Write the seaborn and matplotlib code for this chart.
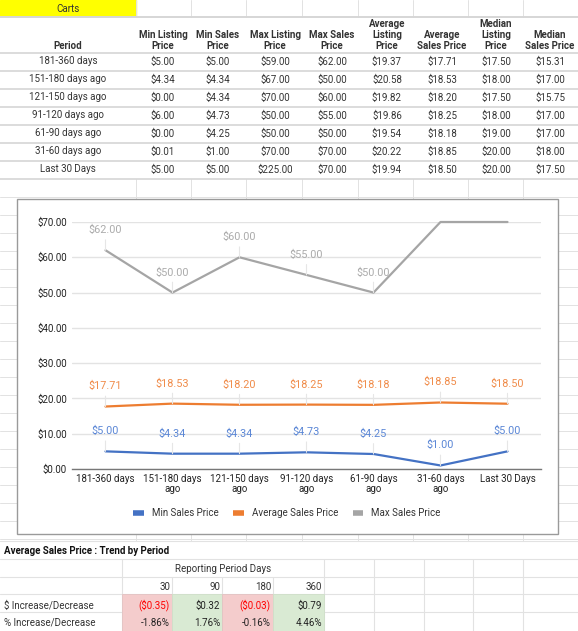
import matplotlib.pyplot as plt
from matplotlib.patches import Rectangle
from matplotlib.ticker import StrMethodFormatter
import seaborn as sns
import pandas as pd

# ---- data ----
periods = ['181-360 days', '151-180 days ago', '121-150 days ago', '91-120 days ago',
           '61-90 days ago', '31-60 days ago', 'Last 30 Days']
tick_labels = ['181-360 days', '151-180 days\nago', '121-150 days\nago', '91-120 days\nago',
               '61-90 days\nago', '31-60 days\nago', 'Last 30 Days']
headers = ['Min Listing\nPrice', 'Min Sales\nPrice', 'Max Listing\nPrice', 'Max Sales\nPrice',
           'Average\nListing\nPrice', 'Average\nSales Price', 'Median\nListing\nPrice',
           'Median\nSales Price']

min_listing = [5.00, 4.34, 0.00, 6.00, 0.00, 0.01, 5.00]
min_sales = [5.00, 4.34, 4.34, 4.73, 4.25, 1.00, 5.00]
max_listing = [59.00, 67.00, 70.00, 50.00, 50.00, 70.00, 225.00]
max_sales = [62.00, 50.00, 60.00, 55.00, 50.00, 70.00, 70.00]
avg_listing = [19.37, 20.58, 19.82, 19.86, 19.54, 20.22, 19.94]
avg_sales = [17.71, 18.53, 18.20, 18.25, 18.18, 18.85, 18.50]
median_listing = [17.50, 18.00, 17.50, 18.00, 19.00, 20.00, 20.00]
median_sales = [15.31, 17.00, 15.75, 17.00, 17.00, 18.00, 17.50]

series_names = ['Min Sales Price', 'Average Sales Price', 'Max Sales Price']
series_colors = ['#4472c4', '#ed7d31', '#a5a5a5']
label_colors = ['#5b87d6', '#f08c4a', '#ababab']

trend_days = [30, 90, 180, 360]
trend_dollar = [-0.35, 0.32, -0.03, 0.79]
trend_pct = [-1.86, 1.76, -0.16, 4.46]

W, H = 578, 631

sns.set_style('white')
plt.rcParams['font.family'] = ['Roboto', 'DejaVu Sans']

fig = plt.figure(figsize=(W / 100, H / 100), dpi=100)
bg = fig.add_axes([0, 0, 1, 1], zorder=0)
bg.set_xlim(0, W)
bg.set_ylim(H, 0)
bg.axis('off')

grid_c = '#e2e2e2'
txt_c = '#333333'
fs = 7

# spreadsheet grid
col_edges = [136, 191, 246, 302, 358, 413, 468, 523]
for x in col_edges:
    bg.plot([x, x], [0, 17], color=grid_c, lw=0.7)
    bg.plot([x, x], [179, 541], color=grid_c, lw=0.7)
for y in range(197, 541, 18):
    bg.plot([0, W], [y, y], color=grid_c, lw=0.7)

# ---- top table ----
bg.add_patch(Rectangle((0, 0), 136, 16, color='#ffff00', zorder=1))
bg.text(68, 8.5, 'Carts', ha='center', va='center', fontsize=fs, color=txt_c)
for y in [17, 53, 71, 89, 107, 125, 143, 161, 179]:
    bg.plot([0, W], [y, y], color='#d6d6d6', lw=1.4 if y == 17 else 1.2, zorder=2)

col_x = [163, 218, 275, 332, 387, 442, 496, 550]
bg.text(68, 51, 'Period', ha='center', va='bottom', fontsize=fs, fontweight='bold', color=txt_c)
for cx, h in zip(col_x, headers):
    bg.text(cx, 51, h, ha='center', va='bottom', fontsize=fs, fontweight='bold',
            color=txt_c, linespacing=1.15, multialignment='center')

table_cols = [min_listing, min_sales, max_listing, max_sales, avg_listing,
              avg_sales, median_listing, median_sales]
for i, p in enumerate(periods):
    ty = 61.5 + 18 * i
    bg.text(68, ty, p, ha='center', va='center', fontsize=fs, color=txt_c)
    for cx, col in zip(col_x, table_cols):
        bg.text(cx, ty, f'${col[i]:,.2f}', ha='center', va='center', fontsize=fs, color=txt_c)

# ---- chart ----
bg.add_patch(Rectangle((17, 199), 541, 335, facecolor='white', edgecolor='#9a9a9a',
                       lw=1.0, zorder=3))

ax = fig.add_axes([72 / W, 1 - 469 / H, 469 / W, 247 / H], zorder=2)
ax.patch.set_alpha(0)

df = pd.DataFrame({
    'period': tick_labels * 3,
    'series': [s for s in series_names for _ in tick_labels],
    'value': min_sales + avg_sales + max_sales,
})
sns.lineplot(data=df, x='period', y='value', hue='series', hue_order=series_names,
             palette=series_colors, sort=False, lw=1.6, ax=ax)
for ln in ax.lines:
    ln.set_clip_on(False)

ax.set_xlim(-0.5, len(tick_labels) - 0.5)
ax.set_ylim(0, 70)
ax.set_yticks(range(0, 71, 10))
ax.yaxis.set_major_formatter(StrMethodFormatter('${x:,.2f}'))
ax.grid(axis='y', color='#e3e3e3', lw=1.0)
ax.grid(axis='x', visible=False)
for s in ['top', 'right', 'left']:
    ax.spines[s].set_visible(False)
ax.spines['bottom'].set_color('#777777')
ax.spines['bottom'].set_linewidth(1.0)
ax.tick_params(axis='both', length=0, labelsize=fs, labelcolor='#222222')
ax.tick_params(axis='y', pad=3.6)
ax.tick_params(axis='x', pad=3.5)
ax.set_xlabel('')
ax.set_ylabel('')
for lab in ax.get_xticklabels():
    lab.set_linespacing(1.0)

top = ax.get_ylim()[1]
for vals, lc in zip([min_sales, avg_sales, max_sales], label_colors):
    for i, v in enumerate(vals):
        if v >= top:
            continue
        ax.annotate(f'${v:,.2f}', xy=(i, v), xytext=(0, 14.5), textcoords='offset points',
                    ha='center', va='center', fontsize=7.8, color=lc,
                    arrowprops=dict(arrowstyle='-', color='#e6e6e6', lw=0.8,
                                    shrinkA=1, shrinkB=0))

sns.move_legend(ax, 'center', bbox_to_anchor=((287 - 72) / 469, (469 - 513) / 247),
                ncol=3, frameon=False, title=None, fontsize=fs, handlelength=1.1,
                handletextpad=0.8, columnspacing=1.5)
for h in ax.get_legend().legend_handles:
    h.set_linewidth(4)
    h.set_solid_capstyle('butt')
for t in ax.get_legend().get_texts():
    t.set_color('#333333')

# ---- trend table ----
for y in [541, 559, 577, 594, 612]:
    bg.plot([0, W], [y, y], color=grid_c, lw=0.8, zorder=1)
for x in [122, 324, 374, 424, 473, 523]:
    bg.plot([x, x], [559, H], color=grid_c, lw=0.8, zorder=1)
for x in [172, 222, 273]:
    bg.plot([x, x], [577, H], color=grid_c, lw=0.8, zorder=1)

bg.text(4, 551, 'Average Sales Price : Trend by Period', ha='left', va='center',
        fontsize=fs, fontweight='bold', color='#111111')
bg.text(223, 569, 'Reporting Period Days', ha='center', va='center', fontsize=fs, color=txt_c)
bg.text(4, 606, '$ Increase/Decrease', ha='left', va='center', fontsize=fs, color=txt_c)
bg.text(4, 623, '% Increase/Decrease', ha='left', va='center', fontsize=fs, color=txt_c)

cell_l = [122, 172, 222, 273]
cell_r = [172, 222, 273, 324]
for i, d in enumerate(trend_days):
    neg = trend_dollar[i] < 0
    bg.add_patch(Rectangle((cell_l[i], 594), cell_r[i] - cell_l[i], H - 594,
                           facecolor='#f4cccc' if neg else '#d9ead3',
                           edgecolor='#e3c2c2' if neg else '#cfe0c9', lw=0.6, zorder=2))
    bg.text(cell_r[i] - 2, 587, str(d), ha='right', va='center', fontsize=fs, color=txt_c)
    dtxt = f'(${abs(trend_dollar[i]):.2f})' if neg else f'${trend_dollar[i]:.2f}'
    bg.text(cell_r[i] - 2, 605.5, dtxt, ha='right', va='center', fontsize=fs,
            color='#ff0000' if neg else '#222222', zorder=3)
    bg.text(cell_r[i] - 2, 623, f'{trend_pct[i]:.2f}%', ha='right', va='center',
            fontsize=fs, color='#222222', zorder=3)

fig.savefig('out.png', dpi=100)
